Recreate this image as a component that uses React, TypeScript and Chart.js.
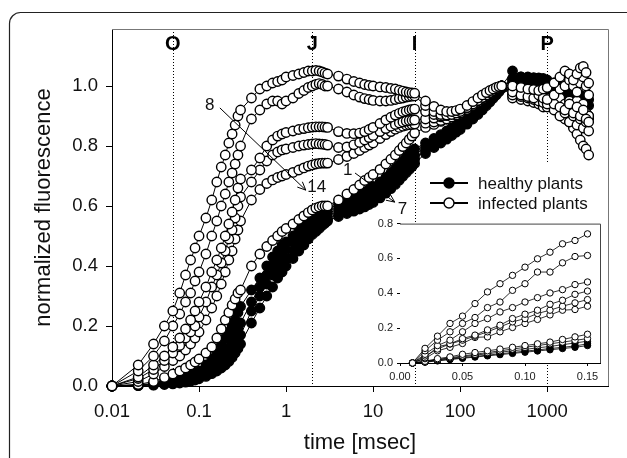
import React, { useEffect, useRef } from 'react';
import { Chart, registerables } from 'chart.js';

Chart.register(...registerables);

const FONT = '"Liberation Sans", Arial, Helvetica, sans-serif';

// ---------- main chart data ----------
const timeMs = [
  0.01, 0.02, 0.03, 0.04, 0.05, 0.06, 0.07, 0.08, 0.09, 0.1,
  0.12, 0.14, 0.16, 0.18, 0.2, 0.22, 0.24, 0.26, 0.28, 0.3,
  0.4, 0.5, 0.6, 0.7, 0.8, 0.9, 1,
  1.2, 1.4, 1.6, 1.8, 2, 2.2, 2.4, 2.6, 2.8, 3,
  4, 5, 6, 7, 8, 9, 10,
  12, 14, 16, 18, 20, 22, 24, 26, 28, 30,
  40, 50, 60, 70, 80, 90, 100,
  120, 140, 160, 180, 200, 220, 240, 260, 280, 300,
  400, 500, 600, 700, 800, 900, 1000,
  1200, 1400, 1600, 1800, 2000, 2200, 2400, 2600, 2800, 3000,
];

const infectedA = [
  0, 0.07, 0.14, 0.2, 0.25, 0.31, 0.37, 0.42, 0.46, 0.5,
  0.56, 0.62, 0.68, 0.73, 0.77, 0.81, 0.84, 0.87, 0.9, 0.92,
  0.96, 0.99, 1.0, 1.01, 1.015, 1.02, 1.03,
  1.035, 1.04, 1.045, 1.05, 1.05, 1.052, 1.05, 1.047, 1.043, 1.04,
  1.033, 1.023, 1.015, 1.01, 1.005, 1.002, 1.0,
  0.997, 0.995, 0.992, 0.99, 0.986, 0.983, 0.98, 0.978, 0.977, 0.976,
  0.95, 0.932, 0.92, 0.915, 0.915, 0.918, 0.923,
  0.935, 0.948, 0.96, 0.97, 0.978, 0.985, 0.99, 0.995, 0.998, 1.0,
  1.0, 0.995, 0.99, 0.988, 0.985, 0.99, 0.995,
  1.01, 1.03, 1.05, 1.04, 1.02, 1.04, 1.06, 1.065, 1.045, 1.01,
];
const infectedB = [
  0, 0.05, 0.1, 0.15, 0.2, 0.24, 0.28, 0.31, 0.35, 0.38,
  0.44, 0.5, 0.55, 0.6, 0.64, 0.68, 0.71, 0.74, 0.77, 0.8,
  0.89, 0.92, 0.94, 0.95, 0.95, 0.94, 0.95,
  0.96, 0.975, 0.985, 0.995, 1.0, 1.005, 1.008, 1.005, 1.0, 1.0,
  0.99, 0.98, 0.97, 0.963, 0.958, 0.955, 0.952,
  0.95, 0.95, 0.952, 0.955, 0.958, 0.96, 0.963, 0.965, 0.966, 0.967,
  0.935, 0.915, 0.905, 0.903, 0.905, 0.91, 0.915,
  0.928, 0.94, 0.952, 0.962, 0.97, 0.978, 0.985, 0.99, 0.995, 1.0,
  0.98, 0.97, 0.965, 0.96, 0.97, 0.96, 0.955,
  0.97, 0.99, 1.0, 1.02, 1.0, 0.98, 1.01, 1.03, 1.0, 0.97,
];
const infectedC = [
  0, 0.03, 0.07, 0.1, 0.13, 0.16, 0.19, 0.22, 0.25, 0.28,
  0.33, 0.38, 0.42, 0.46, 0.5, 0.54, 0.58, 0.62, 0.66, 0.69,
  0.72, 0.76, 0.8, 0.82, 0.833, 0.84, 0.845,
  0.85, 0.855, 0.858, 0.861, 0.863, 0.864, 0.864, 0.864, 0.863, 0.862,
  0.848, 0.842, 0.841, 0.843, 0.848, 0.855, 0.862,
  0.875, 0.887, 0.896, 0.903, 0.909, 0.914, 0.917, 0.92, 0.922, 0.923,
  0.915, 0.905, 0.9, 0.902, 0.908, 0.915, 0.92,
  0.932, 0.945, 0.955, 0.965, 0.973, 0.98, 0.987, 0.993, 0.997, 1.0,
  0.97, 0.965, 0.96, 0.955, 0.95, 0.945, 0.94,
  0.94, 0.93, 0.92, 0.94, 0.91, 0.93, 0.9, 0.92, 0.89, 0.88,
];
const infectedD = [
  0, 0.025, 0.055, 0.085, 0.11, 0.135, 0.16, 0.18, 0.2, 0.23,
  0.28, 0.33, 0.37, 0.41, 0.45, 0.49, 0.52, 0.56, 0.6, 0.63,
  0.68, 0.72, 0.75, 0.77, 0.78, 0.787, 0.79,
  0.795, 0.8, 0.803, 0.805, 0.807, 0.808, 0.807, 0.806, 0.805, 0.803,
  0.795, 0.797, 0.804, 0.812, 0.82, 0.828, 0.835,
  0.848, 0.858, 0.866, 0.872, 0.877, 0.88, 0.883, 0.885, 0.886, 0.887,
  0.89, 0.893, 0.897, 0.902, 0.907, 0.912, 0.917,
  0.928, 0.94, 0.95, 0.96, 0.968, 0.976, 0.983, 0.99, 0.995, 1.0,
  0.99, 0.98, 0.975, 0.97, 0.975, 0.965, 0.96,
  0.95, 0.96, 0.94, 0.95, 0.93, 0.95, 0.92, 0.94, 0.91, 0.9,
];
const infectedE = [
  0, 0.015, 0.04, 0.065, 0.085, 0.1, 0.12, 0.14, 0.16, 0.18,
  0.22, 0.26, 0.3, 0.34, 0.38, 0.42, 0.45, 0.49, 0.52, 0.55,
  0.62, 0.655, 0.675, 0.687, 0.695, 0.7, 0.705,
  0.712, 0.72, 0.727, 0.733, 0.737, 0.74, 0.742, 0.743, 0.743, 0.743,
  0.755, 0.765, 0.775, 0.785, 0.795, 0.803, 0.81,
  0.825, 0.838, 0.848, 0.856, 0.862, 0.866, 0.869, 0.871, 0.872, 0.873,
  0.876, 0.88, 0.885, 0.89, 0.897, 0.903, 0.91,
  0.922, 0.935, 0.946, 0.956, 0.965, 0.973, 0.981, 0.988, 0.994, 1.0,
  0.96, 0.955, 0.95, 0.945, 0.94, 0.93, 0.93,
  0.92, 0.9, 0.91, 0.88, 0.9, 0.87, 0.89, 0.86, 0.88, 0.85,
];
const infectedF = [
  0, 0.005, 0.015, 0.028, 0.04, 0.05, 0.06, 0.07, 0.08, 0.09,
  0.11, 0.13, 0.16, 0.19, 0.22, 0.245, 0.27, 0.29, 0.31, 0.32,
  0.4, 0.44, 0.465, 0.485, 0.5, 0.515, 0.525,
  0.54, 0.555, 0.567, 0.578, 0.587, 0.593, 0.597, 0.6, 0.6, 0.6,
  0.62, 0.64, 0.655, 0.67, 0.685, 0.695, 0.705,
  0.722, 0.74, 0.756, 0.77, 0.785, 0.798, 0.81, 0.822, 0.833, 0.843,
  0.862, 0.872, 0.882, 0.89, 0.898, 0.906, 0.913,
  0.926, 0.938, 0.949, 0.959, 0.967, 0.975, 0.982, 0.989, 0.995, 1.0,
  0.97, 0.96, 0.955, 0.95, 0.945, 0.94, 0.95,
  0.93, 0.91, 0.89, 0.88, 0.86, 0.84, 0.82, 0.8, 0.79, 0.77,
];

const healthy1 = [
  0, 0.004, 0.008, 0.013, 0.018, 0.024, 0.03, 0.036, 0.043, 0.05,
  0.07, 0.09, 0.11, 0.135, 0.16, 0.18, 0.2, 0.22, 0.245, 0.265,
  0.32, 0.36, 0.4, 0.43, 0.45, 0.47, 0.48,
  0.5, 0.52, 0.535, 0.55, 0.56, 0.568, 0.575, 0.58, 0.585, 0.59,
  0.605, 0.615, 0.625, 0.635, 0.645, 0.655, 0.665,
  0.68, 0.695, 0.71, 0.725, 0.738, 0.75, 0.762, 0.772, 0.782, 0.79,
  0.81, 0.825, 0.838, 0.85, 0.86, 0.87, 0.878,
  0.895, 0.91, 0.925, 0.94, 0.952, 0.963, 0.973, 0.982, 0.99, 1.0,
  1.05, 1.03, 1.03, 1.028, 1.027, 1.025, 1.02,
  1.01, 1.0, 0.99, 0.985, 0.98, 0.975, 0.97, 0.965, 0.96, 0.955,
];
const healthy2 = [
  0, 0.003, 0.006, 0.01, 0.014, 0.018, 0.023, 0.028, 0.034, 0.04,
  0.052, 0.065, 0.08, 0.095, 0.11, 0.13, 0.15, 0.17, 0.19, 0.21,
  0.28, 0.33, 0.37, 0.4, 0.42, 0.44, 0.455,
  0.48, 0.5, 0.515, 0.53, 0.54, 0.55, 0.56, 0.565, 0.57, 0.575,
  0.59, 0.6, 0.61, 0.62, 0.63, 0.64, 0.65,
  0.665, 0.68, 0.695, 0.708, 0.72, 0.732, 0.743, 0.753, 0.762, 0.77,
  0.795, 0.812, 0.826, 0.838, 0.85, 0.86, 0.869,
  0.887, 0.903, 0.918, 0.932, 0.945, 0.957, 0.968, 0.978, 0.988, 0.998,
  1.025, 1.03, 1.028, 1.026, 1.025, 1.02, 1.015,
  1.0, 0.99, 0.98, 0.97, 0.96, 0.955, 0.95, 0.945, 0.94, 0.935,
];
const healthy3 = [
  0, 0.002, 0.004, 0.007, 0.01, 0.013, 0.017, 0.021, 0.026, 0.031,
  0.042, 0.053, 0.065, 0.078, 0.09, 0.105, 0.12, 0.135, 0.15, 0.17,
  0.25, 0.3, 0.34, 0.37, 0.39, 0.41, 0.425,
  0.45, 0.47, 0.49, 0.505, 0.52, 0.53, 0.54, 0.547, 0.553, 0.558,
  0.575, 0.585, 0.595, 0.605, 0.615, 0.625, 0.635,
  0.65, 0.665, 0.68, 0.693, 0.706, 0.718, 0.729, 0.739, 0.748, 0.757,
  0.785, 0.803, 0.818, 0.83, 0.842, 0.853, 0.862,
  0.88, 0.897, 0.912, 0.926, 0.94, 0.952, 0.963, 0.974, 0.984, 0.995,
  1.02, 1.025, 1.02, 1.018, 1.015, 1.01, 1.005,
  0.99, 0.975, 0.965, 0.955, 0.945, 0.935, 0.925, 0.918, 0.91, 0.9,
];
const healthy4 = [
  0, 0.001, 0.003, 0.005, 0.007, 0.01, 0.013, 0.016, 0.02, 0.024,
  0.032, 0.041, 0.05, 0.06, 0.07, 0.082, 0.095, 0.11, 0.125, 0.14,
  0.21, 0.26, 0.3, 0.33, 0.36, 0.38, 0.4,
  0.425, 0.45, 0.47, 0.49, 0.505, 0.515, 0.525, 0.535, 0.543, 0.55,
  0.565, 0.575, 0.583, 0.59, 0.597, 0.605, 0.612,
  0.627, 0.643, 0.658, 0.672, 0.686, 0.699, 0.711, 0.722, 0.732, 0.742,
  0.775, 0.795, 0.81, 0.823, 0.835, 0.846, 0.855,
  0.873, 0.89, 0.905, 0.92, 0.934, 0.947, 0.959, 0.97, 0.981, 0.992,
  1.01, 1.015, 1.01, 1.005, 1.0, 0.995, 0.99,
  0.975, 0.96, 0.95, 0.94, 0.93, 0.925, 0.915, 0.905, 0.9, 0.89,
];

const infectedSeries = [infectedA, infectedB, infectedC, infectedD, infectedE, infectedF];
const healthySeries = [healthy1, healthy2, healthy3, healthy4];

const xTickValues = [0.01, 0.1, 1, 10, 100, 1000];
const xTickLabels = ['0.01', '0.1', '1', '10', '100', '1000'];
const yTickValues = [0, 0.2, 0.4, 0.6, 0.8, 1.0];
const yTickLabels = ['0.0', '0.2', '0.4', '0.6', '0.8', '1.0'];

const phaseLabels = ['O', 'J', 'I', 'P'];
const phaseTimes = [0.05, 2, 30, 1000];

const legendLabels = ['healthy plants', 'infected plants'];
const dayLabels = ['8', '14', '1', '7'];

// ---------- inset data ----------
const insetTime = [0.01, 0.02, 0.03, 0.04, 0.05, 0.06, 0.07, 0.08, 0.09, 0.1, 0.11, 0.12, 0.13, 0.14, 0.15];
const insetInfA = [0, 0.084, 0.154, 0.227, 0.269, 0.341, 0.408, 0.455, 0.503, 0.55, 0.598, 0.636, 0.684, 0.703, 0.741];
const insetInfB = [0, 0.07, 0.131, 0.179, 0.227, 0.261, 0.318, 0.35, 0.417, 0.455, 0.522, 0.522, 0.575, 0.611, 0.617];
const insetInfC = [0, 0.05, 0.1, 0.131, 0.179, 0.227, 0.255, 0.293, 0.318, 0.35, 0.375, 0.402, 0.421, 0.45, 0.465];
const insetInfD = [0, 0.04, 0.08, 0.11, 0.14, 0.16, 0.19, 0.217, 0.255, 0.28, 0.303, 0.337, 0.36, 0.394, 0.413];
const insetInfE = [0, 0.03, 0.093, 0.109, 0.131, 0.154, 0.179, 0.207, 0.236, 0.255, 0.284, 0.303, 0.326, 0.345, 0.364];
const insetInfF = [0, 0.025, 0.07, 0.09, 0.112, 0.147, 0.15, 0.179, 0.204, 0.227, 0.25, 0.276, 0.303, 0.307, 0.326];
const insetInfG = [0, 0.01, 0.025, 0.035, 0.05, 0.06, 0.07, 0.08, 0.09, 0.1, 0.11, 0.12, 0.135, 0.15, 0.165];
const insetInfH = [0, 0.008, 0.02, 0.03, 0.04, 0.05, 0.06, 0.07, 0.08, 0.09, 0.1, 0.11, 0.12, 0.13, 0.14];
const insetHea1 = [0, 0.008, 0.018, 0.027, 0.035, 0.045, 0.053, 0.062, 0.07, 0.078, 0.087, 0.095, 0.105, 0.115, 0.125];
const insetHea2 = [0, 0.006, 0.015, 0.022, 0.03, 0.038, 0.045, 0.053, 0.06, 0.068, 0.075, 0.083, 0.09, 0.098, 0.11];
const insetHea3 = [0, 0.005, 0.012, 0.02, 0.027, 0.034, 0.041, 0.048, 0.055, 0.062, 0.069, 0.076, 0.083, 0.09, 0.1];

const insetInfected = [insetInfA, insetInfB, insetInfC, insetInfD, insetInfE, insetInfF, insetInfG, insetInfH];
const insetHealthy = [insetHea1, insetHea2, insetHea3];

const insetXTickValues = [0, 0.05, 0.1, 0.15];
const insetXTickLabels = ['0.00', '0.05', '0.10', '0.15'];
const insetYTickValues = [0, 0.2, 0.4, 0.6, 0.8];
const insetYTickLabels = ['0.0', '0.2', '0.4', '0.6', '0.8'];

// ---------- helpers ----------
function pairs(times: number[], vals: number[]) {
  return times.map((t, i) => ({ x: t, y: vals[i] }));
}

function makeDataset(times: number[], vals: number[], filled: boolean, r: number, bw: number, lw: number) {
  return {
    data: pairs(times, vals),
    borderColor: '#000',
    borderWidth: lw,
    pointRadius: r,
    pointBorderWidth: bw,
    pointBorderColor: '#000',
    pointBackgroundColor: filled ? '#000' : '#fff',
    pointStyle: 'circle',
    fill: false,
    tension: 0,
    clip: false as const,
  };
}

function drawArrow(ctx: CanvasRenderingContext2D, x1: number, y1: number, x2: number, y2: number) {
  ctx.beginPath();
  ctx.moveTo(x1, y1);
  ctx.lineTo(x2, y2);
  ctx.stroke();
  const ang = Math.atan2(y2 - y1, x2 - x1);
  const L = 9;
  const w = 0.42;
  ctx.beginPath();
  ctx.moveTo(x2 - L * Math.cos(ang - w), y2 - L * Math.sin(ang - w));
  ctx.lineTo(x2, y2);
  ctx.lineTo(x2 - L * Math.cos(ang + w), y2 - L * Math.sin(ang + w));
  ctx.stroke();
}

const mainDecor = {
  id: 'mainDecor',
  beforeDraw(chart: any) {
    const ctx: CanvasRenderingContext2D = chart.ctx;
    ctx.save();
    ctx.fillStyle = '#fff';
    ctx.fillRect(0, 0, chart.width, chart.height);
    // outer rounded frame (only top & left visible)
    const x0 = 9.5, y0 = 12.5, rr = 11, x1 = 800, y1 = 800;
    ctx.strokeStyle = '#222';
    ctx.lineWidth = 1.2;
    ctx.beginPath();
    ctx.moveTo(x0, y1);
    ctx.lineTo(x0, y0 + rr);
    ctx.arcTo(x0, y0, x0 + rr, y0, rr);
    ctx.lineTo(x1, y0);
    ctx.stroke();
    ctx.restore();
  },
  beforeDatasetsDraw(chart: any) {
    const ctx: CanvasRenderingContext2D = chart.ctx;
    const a = chart.chartArea;
    const xs = chart.scales.x;
    ctx.save();
    ctx.strokeStyle = '#000';
    ctx.lineWidth = 1;
    ctx.setLineDash([1, 2]);
    phaseTimes.forEach((t) => {
      const px = Math.round(xs.getPixelForValue(t)) + 0.5;
      ctx.beginPath();
      ctx.moveTo(px, a.top);
      ctx.lineTo(px, a.bottom);
      ctx.stroke();
    });
    ctx.restore();
  },
  afterDatasetsDraw(chart: any) {
    const ctx: CanvasRenderingContext2D = chart.ctx;
    const a = chart.chartArea;
    const xs = chart.scales.x;
    const ys = chart.scales.y;
    ctx.save();
    // top and right frame
    ctx.strokeStyle = '#777';
    ctx.lineWidth = 1;
    ctx.beginPath();
    ctx.moveTo(a.left, a.top + 0.5);
    ctx.lineTo(a.right + 0.5, a.top + 0.5);
    ctx.lineTo(a.right + 0.5, a.bottom);
    ctx.stroke();

    // phase letters
    ctx.fillStyle = '#000';
    ctx.font = `bold 20px ${FONT}`;
    ctx.textAlign = 'center';
    ctx.textBaseline = 'middle';
    phaseLabels.forEach((lab, i) => {
      const px = xs.getPixelForValue(phaseTimes[i]);
      ctx.fillText(lab, px, a.top + 15);
    });

    // legend
    const lx = a.left + 308;
    ctx.fillStyle = '#fff';
    ctx.fillRect(lx, a.top + 134, a.right - lx - 1, 60);
    legendLabels.forEach((lab, i) => {
      const y = a.top + 154 + i * 20;
      ctx.strokeStyle = '#000';
      ctx.lineWidth = 1.8;
      ctx.beginPath();
      ctx.moveTo(a.left + 318, y);
      ctx.lineTo(a.left + 356, y);
      ctx.stroke();
      ctx.beginPath();
      ctx.arc(a.left + 337, y, 5, 0, Math.PI * 2);
      ctx.fillStyle = i === 0 ? '#000' : '#fff';
      ctx.fill();
      ctx.lineWidth = 1.4;
      ctx.stroke();
      ctx.fillStyle = '#111';
      ctx.font = `17px ${FONT}`;
      ctx.textAlign = 'left';
      ctx.textBaseline = 'middle';
      ctx.fillText(lab, a.left + 366, y + 1);
    });

    // day annotations with arrows
    const P = (t: number, v: number) => [xs.getPixelForValue(t), ys.getPixelForValue(v)];
    ctx.fillStyle = '#111';
    ctx.font = `17px ${FONT}`;
    ctx.textAlign = 'center';
    ctx.textBaseline = 'middle';
    const labelPos = [P(0.133, 0.937), P(2.25, 0.663), P(5.1, 0.72), P(21.8, 0.59)];
    dayLabels.forEach((lab, i) => {
      ctx.fillText(lab, labelPos[i][0], labelPos[i][1]);
    });
    ctx.strokeStyle = '#000';
    ctx.lineWidth = 1;
    const s1 = P(0.1735, 0.927), e1 = P(1.684, 0.653);
    drawArrow(ctx, s1[0], s1[1], e1[0], e1[1]);
    const s2 = P(6.2, 0.71), e2 = P(17.7, 0.613);
    drawArrow(ctx, s2[0], s2[1], e2[0], e2[1]);
    ctx.restore();
  },
};

const insetDecor = {
  id: 'insetDecor',
  beforeDatasetsDraw(chart: any) {
    const ctx: CanvasRenderingContext2D = chart.ctx;
    const a = chart.chartArea;
    ctx.save();
    ctx.fillStyle = '#fff';
    ctx.fillRect(a.left, a.top, a.right - a.left, a.bottom - a.top);
    ctx.restore();
  },
  afterDatasetsDraw(chart: any) {
    const ctx: CanvasRenderingContext2D = chart.ctx;
    const a = chart.chartArea;
    ctx.save();
    ctx.strokeStyle = '#444';
    ctx.lineWidth = 1;
    ctx.beginPath();
    ctx.moveTo(a.left, a.top + 0.5);
    ctx.lineTo(a.right + 0.5, a.top + 0.5);
    ctx.lineTo(a.right + 0.5, a.bottom);
    ctx.stroke();
    ctx.restore();
  },
};

export default function App() {
  const mainRef = useRef<HTMLCanvasElement>(null);
  const insetRef = useRef<HTMLCanvasElement>(null);

  useEffect(() => {
    Chart.defaults.font.family = FONT;
    const mainCanvas = mainRef.current as HTMLCanvasElement;
    const insetCanvas = insetRef.current as HTMLCanvasElement;

    const mainDatasets = [
      ...infectedSeries.map((v) => makeDataset(timeMs, v, false, 4.7, 1.4, 1)),
      ...healthySeries.map((v) => makeDataset(timeMs, v, true, 4.7, 1.4, 1)),
    ];

    const axisFont = { family: FONT, size: 18.5 };
    const titleFont = { family: FONT, size: 22 };

    const mainChart = new Chart(mainCanvas, {
      type: 'line',
      data: { datasets: mainDatasets as any },
      options: {
        responsive: false,
        animation: false,
        events: [],
        layout: { padding: { left: 0, right: 19, top: 29, bottom: 0 } },
        plugins: { legend: { display: false }, tooltip: { enabled: false } },
        scales: {
          x: {
            type: 'logarithmic',
            min: 0.01,
            max: 5000,
            afterBuildTicks: (s: any) => {
              s.ticks = xTickValues.map((v) => ({ value: v }));
            },
            afterFit: (s: any) => {
              s.height = 72;
            },
            ticks: {
              autoSkip: false,
              maxRotation: 0,
              minRotation: 0,
              padding: 9,
              color: '#111',
              font: axisFont,
              callback: (_v: any, i: number) => xTickLabels[i],
            },
            grid: { drawOnChartArea: false, drawTicks: true, tickLength: 6, tickColor: '#000', tickWidth: 1 },
            border: { display: true, color: '#000', width: 1 },
            title: {
              display: true,
              text: 'time [msec]',
              color: '#111',
              font: titleFont,
              padding: { top: 0, bottom: 2 },
            },
          } as any,
          y: {
            type: 'linear',
            min: 0,
            max: 1.19,
            afterBuildTicks: (s: any) => {
              s.ticks = yTickValues.map((v) => ({ value: v }));
            },
            afterFit: (s: any) => {
              s.width = 112;
            },
            ticks: {
              padding: 8,
              color: '#111',
              font: axisFont,
              callback: (_v: any, i: number) => yTickLabels[i],
            },
            grid: { drawOnChartArea: false, drawTicks: true, tickLength: 6, tickColor: '#000', tickWidth: 1 },
            border: { display: true, color: '#000', width: 1 },
            title: {
              display: true,
              text: 'normalized fluorescence',
              color: '#111',
              font: titleFont,
              padding: { top: 31, bottom: 0 },
            },
          } as any,
        },
      },
      plugins: [mainDecor],
    });

    const insetDatasets = [
      ...insetInfected.map((v) => makeDataset(insetTime, v, false, 3.2, 1, 0.8)),
      ...insetHealthy.map((v) => makeDataset(insetTime, v, true, 3.2, 1, 0.8)),
    ];
    const insetFont = { family: FONT, size: 11 };

    const insetChart = new Chart(insetCanvas, {
      type: 'line',
      data: { datasets: insetDatasets as any },
      options: {
        responsive: false,
        animation: false,
        events: [],
        layout: { padding: { left: 0, right: 5, top: 10, bottom: 0 } },
        plugins: { legend: { display: false }, tooltip: { enabled: false } },
        scales: {
          x: {
            type: 'linear',
            min: 0,
            max: 0.16,
            afterBuildTicks: (s: any) => {
              s.ticks = insetXTickValues.map((v) => ({ value: v }));
            },
            afterFit: (s: any) => {
              s.height = 30;
            },
            ticks: {
              autoSkip: false,
              maxRotation: 0,
              padding: 4,
              color: '#222',
              font: insetFont,
              callback: (_v: any, i: number) => insetXTickLabels[i],
            },
            grid: { drawOnChartArea: false, drawTicks: true, tickLength: 3, tickColor: '#000' },
            border: { display: true, color: '#000', width: 1 },
          } as any,
          y: {
            type: 'linear',
            min: 0,
            max: 0.8,
            afterBuildTicks: (s: any) => {
              s.ticks = insetYTickValues.map((v) => ({ value: v }));
            },
            afterFit: (s: any) => {
              s.width = 40;
            },
            ticks: {
              padding: 4,
              color: '#222',
              font: insetFont,
              callback: (_v: any, i: number) => insetYTickLabels[i],
            },
            grid: { drawOnChartArea: false, drawTicks: true, tickLength: 3, tickColor: '#000' },
            border: { display: true, color: '#000', width: 1 },
          } as any,
        },
      },
      plugins: [insetDecor],
    });

    return () => {
      mainChart.destroy();
      insetChart.destroy();
    };
  }, []);

  return (
    <div style={{ position: 'fixed', left: 0, top: 0, width: 627, height: 458, background: '#fff', overflow: 'hidden' }}>
      <canvas
        ref={mainRef}
        width={627}
        height={458}
        style={{ position: 'absolute', left: 0, top: 0, width: 627, height: 458 }}
      />
      <canvas
        ref={insetRef}
        width={245}
        height={180}
        style={{ position: 'absolute', left: 360, top: 213, width: 245, height: 180 }}
      />
    </div>
  );
}
